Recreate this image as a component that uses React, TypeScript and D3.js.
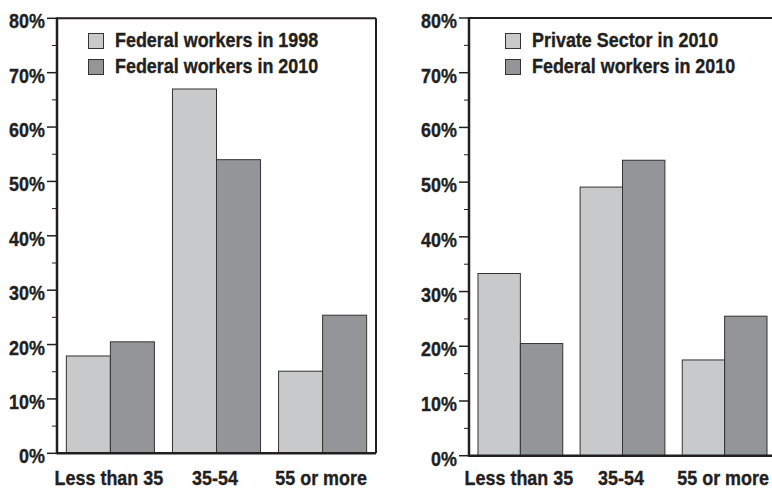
import React from "react";
import * as d3 from "d3";

const categories = ["Less than 35", "35-54", "55 or more"];
const yTicks = [0, 10, 20, 30, 40, 50, 60, 70, 80];
const yMinorTicks = [5, 15, 25, 35, 45, 55, 65, 75];

const leftSeriesNames = ["Federal workers in 1998", "Federal workers in 2010"];
const leftFederal1998 = [17.9, 67.0, 15.1];
const leftFederal2010 = [20.5, 54.0, 25.4];

const rightSeriesNames = ["Private Sector in 2010", "Federal workers in 2010"];
const rightPrivate2010 = [33.3, 49.1, 17.5];
const rightFederal2010 = [20.5, 54.0, 25.5];

const COLORS = ["#c8c9cb", "#939598"];
const INK = "#231f20";
const FONT = "'Liberation Sans', Arial, Helvetica, sans-serif";
const FS = 19.5;
const SX = 0.92;

function Label({
  x,
  y,
  anchor = "start",
  children,
}: {
  x: number;
  y: number;
  anchor?: "start" | "middle" | "end";
  children: React.ReactNode;
}) {
  return (
    <text
      transform={`translate(${x},${y}) scale(${SX},1)`}
      textAnchor={anchor}
      fontFamily={FONT}
      fontWeight="bold"
      fontSize={FS}
      fill={INK}
      stroke={INK}
      strokeWidth={0.35}
    >
      {children}
    </text>
  );
}

type PanelProps = {
  names: string[];
  series: number[][];
  x0: number;
  x1: number;
  yTop: number;
  yBottom: number;
  legendX: number;
};

function Panel({ names, series, x0, x1, yTop, yBottom, legendX }: PanelProps) {
  const y = d3.scaleLinear().domain([0, 80]).range([yBottom, yTop]);
  const x = d3
    .scaleBand<string>()
    .domain(categories)
    .range([x0, x1])
    .paddingInner(0.17)
    .paddingOuter(0.088);
  const inner = d3
    .scaleBand<number>()
    .domain(series.map((_, i) => i))
    .range([0, x.bandwidth()]);

  return (
    <g>
      {categories.map((c, ci) => (
        <g key={c} transform={`translate(${x(c)},0)`}>
          {series.map((s, si) => (
            <rect
              key={si}
              x={inner(si)!}
              y={y(s[ci])}
              width={inner.bandwidth()}
              height={y(0) - y(s[ci])}
              fill={COLORS[si]}
              stroke="#333"
              strokeWidth={1}
            />
          ))}
          <Label x={x.bandwidth() / 2 - 1.5} y={485} anchor="middle">
            {c}
          </Label>
        </g>
      ))}
      <line x1={x0} x2={x1} y1={yTop} y2={yTop} stroke={INK} strokeWidth={2} />
      <line x1={x1} x2={x1} y1={yTop} y2={yBottom} stroke={INK} strokeWidth={2} />
      <line x1={x0} x2={x1} y1={yBottom} y2={yBottom} stroke={INK} strokeWidth={2.5} />
      <line x1={x0} x2={x0} y1={yTop - 1} y2={yBottom + 1} stroke={INK} strokeWidth={2.5} />
      {yTicks.map((t) => (
        <g key={t}>
          <line x1={x0 - 10} x2={x0} y1={y(t)} y2={y(t)} stroke={INK} strokeWidth={1.5} />
          <Label x={x0 - 12} y={y(t) + 10} anchor="end">
            {t}%
          </Label>
        </g>
      ))}
      {yMinorTicks.map((t) => (
        <line key={t} x1={x0 - 5} x2={x0} y1={y(t)} y2={y(t)} stroke={INK} strokeWidth={1} />
      ))}
      {names.map((n, i) => (
        <g key={n} transform={`translate(${legendX},${33 + i * 26})`}>
          <rect x={0.5} y={0.5} width={15} height={15} fill={COLORS[i]} stroke="#333" strokeWidth={1} />
          <Label x={27} y={13.5}>
            {n}
          </Label>
        </g>
      ))}
    </g>
  );
}

export default function App() {
  return (
    <svg
      width={772}
      height={489}
      style={{ position: "absolute", left: 0, top: 0, background: "#fff" }}
    >
      <rect width={772} height={489} fill="#fff" />
      <Panel
        names={leftSeriesNames}
        series={[leftFederal1998, leftFederal2010]}
        x0={57}
        x1={376}
        yTop={18.3}
        yBottom={453.3}
        legendX={88}
      />
      <Panel
        names={rightSeriesNames}
        series={[rightPrivate2010, rightFederal2010]}
        x0={469}
        x1={776}
        yTop={18}
        yBottom={455.7}
        legendX={505}
      />
    </svg>
  );
}
